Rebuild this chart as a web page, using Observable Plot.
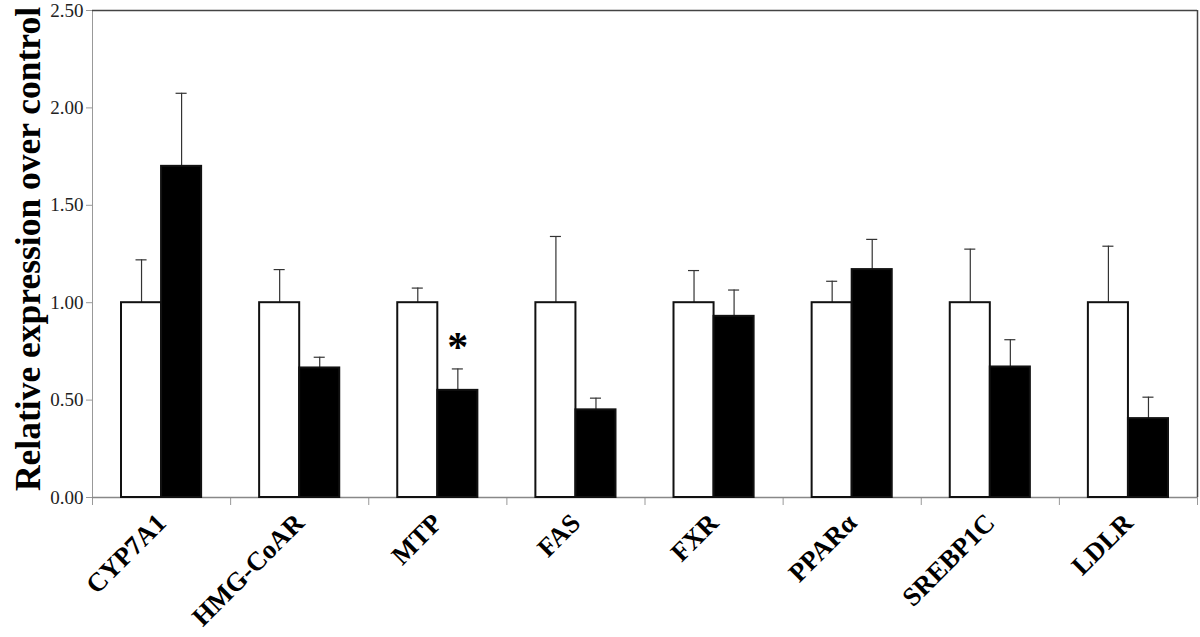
<!DOCTYPE html>
<html>
<head>
<meta charset="utf-8">
<script src="https://cdn.jsdelivr.net/npm/d3@7"></script>
<script src="https://cdn.jsdelivr.net/npm/@observablehq/plot@0.6"></script>
<style>
  html, body { margin: 0; padding: 0; background: #fff; }
  #chart svg { display: block; }
  #chart svg, #chart svg text { font-family: "Liberation Serif", "DejaVu Serif", serif !important; }
</style>
</head>
<body>
<div id="chart"></div>
<script>
const categories = ["CYP7A1", "HMG-CoAR", "MTP", "FAS", "FXR", "PPARα", "SREBP1C", "LDLR"];
const controlValues = [1.00, 1.00, 1.00, 1.00, 1.00, 1.00, 1.00, 1.00];
const controlErrors = [0.22, 0.17, 0.075, 0.34, 0.165, 0.11, 0.275, 0.29];
const treatedValues = [1.70, 0.665, 0.55, 0.45, 0.93, 1.17, 0.67, 0.405];
const treatedErrors = [0.375, 0.055, 0.11, 0.06, 0.135, 0.155, 0.14, 0.11];
const significant = ["MTP"];
const yTicks = [0, 0.5, 1.0, 1.5, 2.0, 2.5];

// layout within each category slot (fraction of the slot)
const barStart = 0.21, barMid = 0.5, barEnd = 0.79, capHalf = 0.04;

const rows = [];
categories.forEach((c, i) => {
  rows.push({cat: c, i, group: "control", x1: i + barStart, x2: i + barMid, value: controlValues[i], err: controlValues[i] + controlErrors[i]});
  rows.push({cat: c, i, group: "treated", x1: i + barMid, x2: i + barEnd, value: treatedValues[i], err: treatedValues[i] + treatedErrors[i]});
});
rows.forEach(r => { r.xc = (r.x1 + r.x2) / 2; });
const stars = rows.filter(r => r.group === "treated" && significant.includes(r.cat));

const serif = "Liberation Serif";

const chart = Plot.plot({
  width: 1200,
  height: 637,
  marginLeft: 92,
  marginRight: 3,
  marginTop: 10,
  marginBottom: 140,
  style: {fontFamily: serif, background: "#fff"},
  x: {type: "linear", domain: [0, categories.length], axis: null},
  y: {domain: [0, 2.5], axis: null},
  marks: [
    Plot.axisY({ticks: yTicks, tickFormat: d3.format(".2f"), tickSize: 6, tickPadding: 3, stroke: "#999", fill: "#222", fontSize: 19, label: null}),
    Plot.axisX({ticks: d3.range(0, categories.length + 1), tickSize: 8, tickFormat: () => "", stroke: "#999", label: null}),
    Plot.axisX({
      ticks: categories.map((c, i) => i + 0.5),
      tickFormat: v => categories[Math.round(v - 0.5)],
      tickSize: 0,
      tickPadding: 21,
      tickRotate: -45,
      fontSize: 26.5,
      fontWeight: "bold",
      fill: "#000",
      label: null
    }),
    Plot.ruleX([0], {stroke: "#999", strokeWidth: 1}),
    Plot.ruleY([0], {stroke: "#888", strokeWidth: 1.5}),
    Plot.ruleY([2.5], {stroke: "#444", strokeWidth: 1.5}),
    Plot.ruleX([categories.length], {stroke: "#444", strokeWidth: 1.5}),
    Plot.ruleX(rows, {x: "xc", y1: "value", y2: "err", stroke: "#333", strokeWidth: 1.2}),
    Plot.ruleY(rows, {y: "err", x1: d => d.xc - capHalf, x2: d => d.xc + capHalf, stroke: "#333", strokeWidth: 1.2}),
    Plot.rectY(rows, {
      x1: "x1", x2: "x2", y1: 0, y2: "value",
      fill: d => d.group === "control" ? "#fff" : "#000",
      stroke: "#111",
      strokeWidth: 2
    }),
    Plot.text(stars, {x: "xc", y: d => d.err + 0.08, text: () => "*", fontSize: 42, fontWeight: "bold", fill: "#000", dy: -6}),
    Plot.text(["Relative expression over control"], {
      frameAnchor: "left", dx: -64, dy: -5, rotate: -90, text: d => d,
      fontSize: 35.5, fontWeight: "bold", fill: "#000", textAnchor: "middle"
    })
  ]
});
document.getElementById("chart").appendChild(chart);
</script>
</body>
</html>
